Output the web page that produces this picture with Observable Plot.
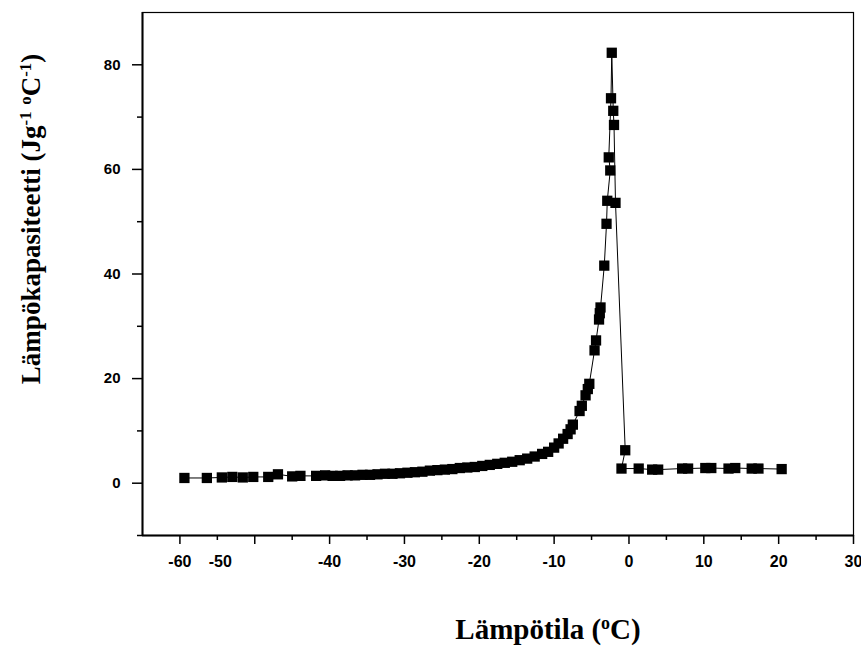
<!DOCTYPE html>
<html>
<head>
<meta charset="utf-8">
<script src="https://cdn.jsdelivr.net/npm/d3@7"></script>
<script src="https://cdn.jsdelivr.net/npm/@observablehq/plot@0.6"></script>
<style>
  html, body { margin: 0; padding: 0; background: #fff; }
  #chart svg { display: block; }
</style>
</head>
<body>
<div id="chart"></div>
<script>
// Temperature (°C) in measurement order
const temps = [
  -59.4, -56.4, -54.4, -53.0, -51.6, -50.2, -48.2, -46.9, -45.0, -43.9,
  -41.8, -40.6, -39.6, -38.6, -37.6, -36.6, -35.6, -34.6, -33.6, -32.6,
  -31.6, -30.6, -29.6, -28.6, -27.6, -26.6, -25.6, -24.6, -23.6, -22.6,
  -21.6, -20.6, -19.6, -18.6, -17.6, -16.6, -15.6, -14.6, -13.6, -12.6,
  -11.6, -10.8, -10.0, -9.4, -8.8, -8.2, -7.8, -7.5, -6.6, -6.3,
  -5.8, -5.5, -5.3, -4.6, -4.4, -4.0, -3.9, -3.8, -3.3, -3.0,
  -2.9, -2.5, -2.7, -2.4, -2.3, -2.1, -2.0, -1.8, -0.5, -1.0,
  1.3, 3.1, 3.9, 7.1, 7.9, 10.2, 11.0, 13.3, 14.2, 16.4,
  17.3, 20.4
];
// Heat capacity (J g^-1 °C^-1)
const heatCapacity = [
  1.0, 1.0, 1.1, 1.2, 1.1, 1.2, 1.2, 1.7, 1.3, 1.4,
  1.4, 1.5, 1.4, 1.4, 1.5, 1.5, 1.6, 1.6, 1.7, 1.8,
  1.8, 1.9, 2.0, 2.1, 2.2, 2.4, 2.5, 2.6, 2.7, 2.9,
  3.0, 3.1, 3.3, 3.5, 3.7, 3.9, 4.1, 4.4, 4.7, 5.1,
  5.6, 6.0, 6.8, 7.6, 8.5, 9.4, 10.3, 11.2, 13.8, 14.8,
  16.8, 18.0, 19.0, 25.4, 27.3, 31.3, 32.5, 33.6, 41.6, 49.6,
  54.0, 59.8, 62.3, 73.6, 82.3, 71.2, 68.5, 53.6, 6.3, 2.8,
  2.8, 2.6, 2.6, 2.8, 2.8, 2.9, 2.9, 2.8, 2.9, 2.8,
  2.8, 2.7
];

const xMajorTicks = [-60, -50, -40, -30, -20, -10, 0, 10, 20, 30];
const xMinorTicks = [-55, -45, -35, -25, -15, -5, 5, 15, 25];
const xTickLabels = ["-60", "-50", "-40", "-30", "-20", "-10", "0", "10", "20", "30"];
// label positions as printed in the original (the "-50" label sits left of its tick)
const xTickLabelPos = [-60, -54.6, -40, -30, -20, -10, 0, 10, 20, 30];
const yMajorTicks = [0, 20, 40, 60, 80];
const yMinorTicks = [-10, 10, 30, 50, 70];
const yTickLabels = ["0", "20", "40", "60", "80"];

const xTitle = "Lämpötila (ºC)";
const yTitle = "Lämpökapasiteetti (Jg-1 ºC-1)";

const data = temps.map((t, i) => ({t, c: heatCapacity[i]}));
const xDomain = [-65, 30];
const yDomain = [-10, 90];

const sansBold = {fontFamily: "'Liberation Sans', Arial, sans-serif", fontWeight: "bold"};
const serifBold = {fontFamily: "'Liberation Serif', 'Times New Roman', serif", fontWeight: "bold"};

const plot = Plot.plot({
  width: 861,
  height: 661,
  marginLeft: 142,
  marginRight: 8,
  marginTop: 12,
  marginBottom: 126,
  style: {background: "#fff", color: "#000", overflow: "visible"},
  x: {domain: xDomain, axis: null, label: null},
  y: {domain: yDomain, axis: null, label: null},
  marks: [
    Plot.frame({stroke: "#000", strokeWidth: 1.2}),
    Plot.ruleX([xDomain[0]], {stroke: "#000", strokeWidth: 2}),
    Plot.ruleY([yDomain[0]], {stroke: "#000", strokeWidth: 2}),
    Plot.axisX(xMajorTicks, {tickSize: 9, tickFormat: () => "", label: null, strokeWidth: 1.5, stroke: "#000"}),
    Plot.axisX(xMinorTicks, {tickSize: 5, tickFormat: () => "", label: null, strokeWidth: 1.5, stroke: "#000"}),
    Plot.axisY(yMajorTicks, {tickSize: 10, tickFormat: () => "", label: null, strokeWidth: 1.5, stroke: "#000"}),
    Plot.axisY(yMinorTicks, {tickSize: 5, tickFormat: () => "", label: null, strokeWidth: 1.5, stroke: "#000"}),
    Plot.text(xTickLabelPos, {
      x: d => d, y: () => yDomain[0], dy: 26,
      text: (d, i) => xTickLabels[i],
      fontSize: 16, ...sansBold, fill: "#000"
    }),
    Plot.text(yMajorTicks, {
      x: () => xDomain[0], y: d => d, dx: -22, textAnchor: "end",
      text: (d, i) => yTickLabels[i],
      fontSize: 15, ...sansBold, fill: "#000"
    }),
    Plot.line(data, {x: "t", y: "c", stroke: "#000", strokeWidth: 1}),
    Plot.dot(data, {x: "t", y: "c", symbol: "square", r: 5.8, fill: "#000", stroke: "none"}),
    Plot.text([xTitle], {
      frameAnchor: "bottom", text: d => d, dx: 50, dy: 103,
      textAnchor: "middle",
      fontSize: 29, ...serifBold, fill: "#000"
    }),
    Plot.text([yTitle], {
      frameAnchor: "left", text: d => d, rotate: -90, dx: -111, dy: -55,
      textAnchor: "middle", lineAnchor: "middle",
      fontSize: 27, ...serifBold, fill: "#000"
    })
  ]
});

d3.select(plot).selectAll("text").each(function() {
  const el = d3.select(this);
  const txt = this.textContent;
  let parts = null;
  if (txt === xTitle) {
    parts = [["Lämpötila (", false], ["o", true], ["C)", false]];
  } else if (txt === yTitle) {
    parts = [["Lämpökapasiteetti (Jg", false], ["-1", true], [" ", false], ["o", true], ["C", false], ["-1", true], [")", false]];
  }
  if (parts) {
    el.text(null);
    parts.forEach(([s, sup]) => {
      const ts = el.append("tspan").text(s);
      if (sup) ts.attr("baseline-shift", "super").attr("font-size", "0.62em");
    });
  }
});

document.getElementById("chart").appendChild(plot);
</script>
</body>
</html>
